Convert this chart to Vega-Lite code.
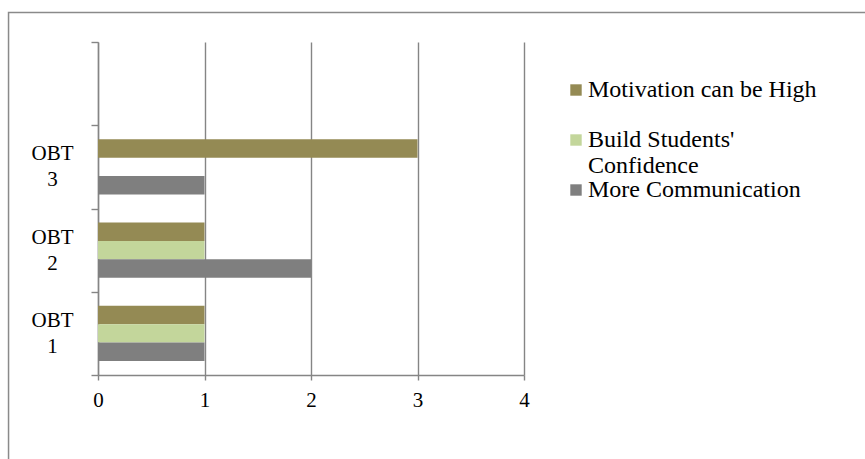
{
  "$schema": "https://vega.github.io/schema/vega-lite/v6.json",
  "width": 426,
  "height": 333,
  "autosize": {"type": "none"},
  "padding": {"left": 98, "top": 42, "right": 341, "bottom": 84},
  "background": "white",
  "config": {"view": {"stroke": null}, "font": "Liberation Serif"},
  "layer": [
    {
      "data": {"values": [{}]},
      "mark": {"type": "rect", "fill": null, "stroke": "#8a8a8a", "strokeWidth": 1.5},
      "encoding": {
        "x": {
          "datum": -0.84,
          "type": "quantitative",
          "scale": {"domain": [0, 4], "nice": false, "zero": false},
          "axis": {
            "title": null,
            "values": [0, 1, 2, 3, 4],
            "grid": true,
            "gridColor": "#858585",
            "gridWidth": 1.4,
            "domainColor": "#858585",
            "domainWidth": 1.4,
            "tickColor": "#858585",
            "tickWidth": 1.4,
            "tickSize": 5,
            "labelFont": "Liberation Serif",
            "labelFontSize": 21,
            "labelColor": "black",
            "labelPadding": 9,
            "labelFlush": false
          }
        },
        "x2": {"datum": 9},
        "y": {"datum": 1.0886, "type": "quantitative", "scale": {"domain": [0, 1], "nice": false, "zero": false}, "axis": null},
        "y2": {"datum": -1}
      }
    },
    {
      "data": {
        "values": [
          {"category": "OBT 1", "series": "Motivation can be High", "value": 1},
          {"category": "OBT 1", "series": "Build Students' Confidence", "value": 1},
          {"category": "OBT 1", "series": "More Communication", "value": 1},
          {"category": "OBT 2", "series": "Motivation can be High", "value": 1},
          {"category": "OBT 2", "series": "Build Students' Confidence", "value": 1},
          {"category": "OBT 2", "series": "More Communication", "value": 2},
          {"category": "OBT 3", "series": "Motivation can be High", "value": 3},
          {"category": "OBT 3", "series": "More Communication", "value": 1}
        ]
      },
      "mark": {"type": "bar"},
      "encoding": {
        "x": {
          "field": "value",
          "type": "quantitative",
          "scale": {"domain": [0, 4], "nice": false, "zero": false},
          "axis": {
            "title": null,
            "values": [0, 1, 2, 3, 4],
            "grid": true,
            "gridColor": "#858585",
            "gridWidth": 1.4,
            "domainColor": "#858585",
            "domainWidth": 1.4,
            "tickColor": "#858585",
            "tickWidth": 1.4,
            "tickSize": 5,
            "labelFont": "Liberation Serif",
            "labelFontSize": 21,
            "labelColor": "black",
            "labelPadding": 9,
            "labelFlush": false
          }
        },
        "y": {
          "field": "category",
          "type": "nominal",
          "scale": {"domain": [" ", "OBT 3", "OBT 2", "OBT 1"], "paddingInner": 0, "paddingOuter": 0},
          "axis": {
            "title": null,
            "tickBand": "extent",
            "domainColor": "#858585",
            "domainWidth": 1.4,
            "tickColor": "#858585",
            "tickWidth": 1.4,
            "tickSize": 7,
            "labelFont": "Liberation Serif",
            "labelFontSize": 21,
            "labelColor": "black",
            "labelAlign": "center",
            "labelBaseline": "middle",
            "labelLineHeight": 26,
            "labelPadding": 39,
            "labelOffset": -13,
            "labelExpr": "split(datum.label, ' ')"
          }
        },
        "yOffset": {
          "field": "series",
          "scale": {"domain": ["Motivation can be High", "Build Students' Confidence", "More Communication"], "paddingInner": 0, "paddingOuter": 0.77}
        },
        "color": {
          "field": "series",
          "scale": {"domain": ["Motivation can be High", "Build Students' Confidence", "More Communication"], "range": ["#948A54", "#C3D69B", "#7F7F7F"]},
          "legend": {
            "title": null,
            "orient": "none",
            "legendX": 466,
            "legendY": 36,
            "symbolType": "square",
            "symbolSize": 130,
            "symbolStrokeWidth": 0,
            "labelFont": "Liberation Serif",
            "labelFontSize": 24,
            "labelColor": "black",
            "labelLimit": 0,
            "labelOffset": 0,
            "rowPadding": 0,
            "labelExpr": "indexof(datum.label, 'Build') === 0 ? [slice(datum.label, 0, 15), slice(datum.label, 16)] : indexof(datum.label, 'Motivation') === 0 ? [datum.label, ''] : datum.label",
            "encode": {"labels": {"update": {"lineHeight": {"value": 26}}}}
          }
        }
      }
    }
  ],
  "resolve": {"scale": {"y": "independent"}, "axis": {"y": "independent"}}
}
